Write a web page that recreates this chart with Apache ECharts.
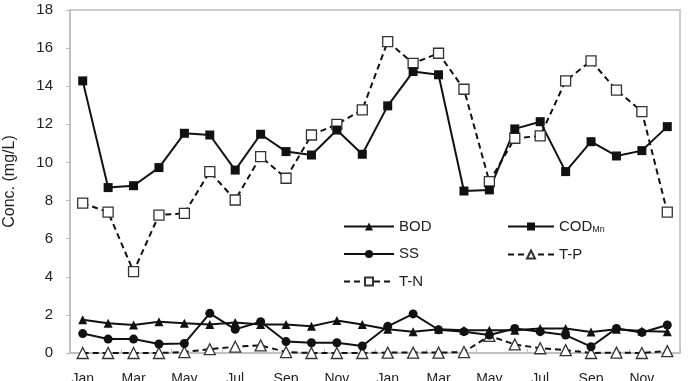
<!DOCTYPE html>
<html>
<head>
<meta charset="utf-8">
<script src="https://cdn.jsdelivr.net/npm/echarts@6/dist/echarts.min.js"></script>
<style>
  html, body { margin: 0; padding: 0; background: #fff; }
  #chart { width: 688px; height: 381px; }
</style>
</head>
<body>
<div id="chart"></div>
<script>
// months over two years
var months = ['Jan','Feb','Mar','Apr','May','Jun','Jul','Aug','Sep','Oct','Nov','Dec',
              'Jan','Feb','Mar','Apr','May','Jun','Jul','Aug','Sep','Oct','Nov','Dec'];
var yTicks = [0, 18, 2]; // min, max, interval

var bod   = [1.75,1.56,1.47,1.64,1.56,1.5,1.6,1.5,1.5,1.4,1.7,1.5,1.25,1.12,1.25,1.2,1.2,1.2,1.28,1.28,1.1,1.25,1.15,1.12];
var codMn = [14.28,8.68,8.78,9.73,11.53,11.44,9.6,11.48,10.57,10.39,11.7,10.43,12.97,14.77,14.6,8.5,8.56,11.76,12.14,9.52,11.09,10.34,10.62,11.88];
var ss    = [1.02,0.73,0.73,0.47,0.5,2.08,1.24,1.64,0.6,0.54,0.54,0.37,1.4,2.05,1.22,1.12,0.94,1.29,1.12,0.94,0.33,1.29,1.08,1.47];
var tp    = [0,0,0,0,0.05,0.2,0.33,0.4,0.05,0,0,0,0.02,0.02,0.02,0.05,0.9,0.45,0.25,0.15,0,0.02,0,0.1];
var tn    = [7.86,7.39,4.27,7.24,7.33,9.52,8.03,10.31,9.17,11.44,12.0,12.76,16.34,15.2,15.73,13.84,8.99,11.27,11.39,14.28,15.33,13.8,12.67,7.39];

var chart = echarts.init(document.getElementById('chart'), null, {renderer: 'canvas'});

var font = 'Liberation Sans, Arial, sans-serif';
var legendText = {
  fontFamily: font,
  fontSize: 15,
  color: '#222',
  rich: {
    base: { fontFamily: font, fontSize: 15, color: '#222' },
    sub: { fontFamily: font, fontSize: 9, color: '#222', padding: [7, 0, 0, 0] }
  }
};
function fmt(name) {
  return name === 'COD_Mn' ? '{base|COD}{sub|Mn}' : name;
}

function lineSeries(name, data, symbol, size, dashed) {
  return {
    name: name,
    type: 'line',
    data: data,
    symbol: symbol,
    symbolSize: size,
    showAllSymbol: true,
    lineStyle: { color: '#111', width: 2, type: dashed ? [6, 4] : 'solid' },
    itemStyle: { color: dashed ? '#fff' : '#111', borderColor: '#333', borderWidth: dashed ? 1.3 : 0 }
  };
}

var option = {
  backgroundColor: '#fff',
  animation: false,
  grid: {
    left: 70, right: 8, top: 10, bottom: 28,
    outerBoundsMode: 'none',
    containLabel: false,
    show: true, borderColor: '#bdbdbd', borderWidth: 1.5
  },
  legend: [
    {
      data: ['BOD', 'SS', 'T-N'],
      orient: 'vertical',
      left: 343, top: 219, padding: 0,
      itemWidth: 50, itemHeight: 10, itemGap: 12.5,
      textStyle: legendText,
      formatter: fmt
    },
    {
      data: ['COD_Mn', 'T-P'],
      orient: 'vertical',
      left: 507, top: 219, padding: 0,
      itemWidth: 46, itemHeight: 10, itemGap: 12.5,
      textStyle: legendText,
      formatter: fmt
    }
  ],
  xAxis: {
    type: 'category',
    data: months,
    boundaryGap: true,
    axisLine: { lineStyle: { color: '#bdbdbd', width: 1.5 } },
    axisTick: { show: true, inside: true, length: 4, lineStyle: { color: '#bdbdbd' } },
    axisLabel: { interval: 1, margin: 19, fontFamily: font, fontSize: 14, color: '#222' }
  },
  yAxis: {
    type: 'value',
    min: yTicks[0], max: yTicks[1], interval: yTicks[2],
    name: 'Conc. (mg/L)',
    nameLocation: 'middle',
    nameGap: 52,
    nameTextStyle: { fontFamily: font, fontSize: 16, color: '#222' },
    splitLine: { show: false },
    axisLine: { show: true, lineStyle: { color: '#bdbdbd', width: 1.5 } },
    axisTick: { show: true, length: 4, lineStyle: { color: '#bdbdbd' } },
    axisLabel: { margin: 17, fontFamily: font, fontSize: 15, color: '#222' }
  },
  series: [
    lineSeries('T-N', tn, 'rect', 10, true),
    lineSeries('T-P', tp, 'triangle', 11, true),
    lineSeries('COD_Mn', codMn, 'rect', 9, false),
    lineSeries('SS', ss, 'circle', 9, false),
    lineSeries('BOD', bod, 'triangle', 9, false)
  ]
};

chart.setOption(option);
</script>
</body>
</html>
